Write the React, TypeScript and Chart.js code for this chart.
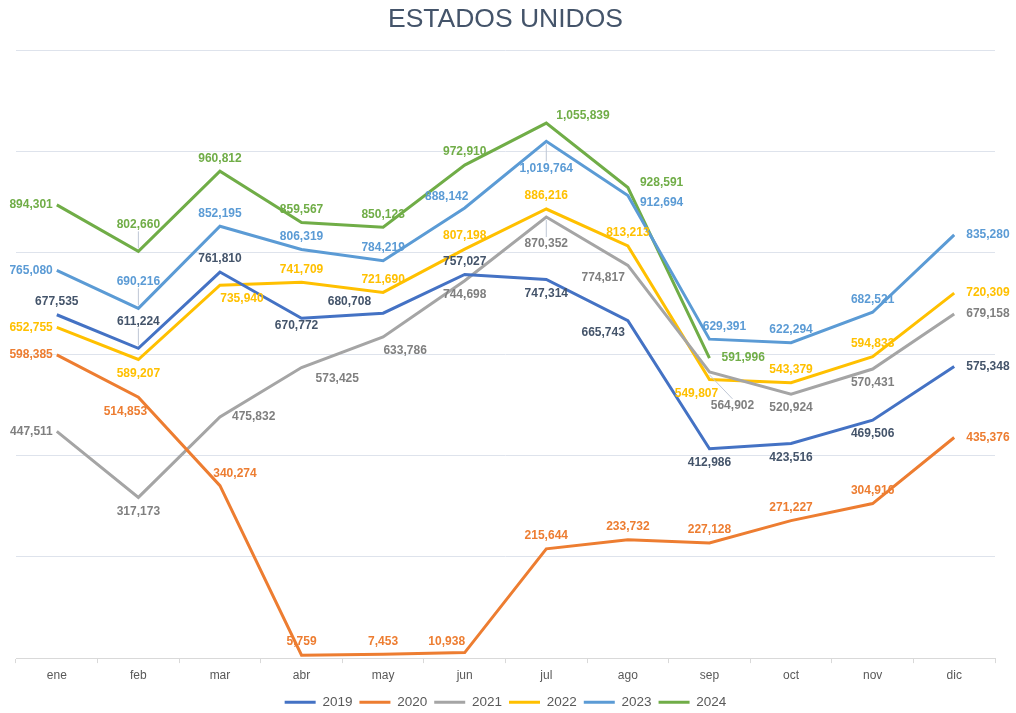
import React, { useEffect, useRef } from "react";
import { Chart, registerables } from "chart.js";

Chart.register(...registerables);

const months = ["ene", "feb", "mar", "abr", "may", "jun", "jul", "ago", "sep", "oct", "nov", "dic"];
const seriesNames = ["2019", "2020", "2021", "2022", "2023", "2024"];

const values2019 = [677535, 611224, 761810, 670772, 680708, 757027, 747314, 665743, 412986, 423516, 469506, 575348];
const values2020 = [598385, 514853, 340274, 5759, 7453, 10938, 215644, 233732, 227128, 271227, 304916, 435376];
const values2021 = [447511, 317173, 475832, 573425, 633786, 744698, 870352, 774817, 564902, 520924, 570431, 679158];
const values2022 = [652755, 589207, 735940, 741709, 721690, 807198, 886216, 813213, 549807, 543379, 594833, 720309];
const values2023 = [765080, 690216, 852195, 806319, 784219, 888142, 1019764, 912694, 629391, 622294, 682521, 835280];
const values2024 = [894301, 802660, 960812, 859567, 850123, 972910, 1055839, 928591, 591996, null, null, null];

const allValues = [values2019, values2020, values2021, values2022, values2023, values2024];

const lineColors = ["#4472C4", "#ED7D31", "#A5A5A5", "#FFC000", "#5B9BD5", "#70AD47"];
const labelColors = ["#44546A", "#ED7D31", "#7F7F7F", "#FFC000", "#5B9BD5", "#70AD47"];

// label placement codes per series / month
const placements = [
  ["T", "TT", "T", "BN", "LT", "T", "B", "BL", "B", "B", "B", "R"],
  ["L", "BW", "TR", "T", "T", "TL", "T", "T", "T", "T", "T", "R"],
  ["L", "B", "R", "RB", "BR", "B", "BB", "BL", "BBR", "B", "B", "R"],
  ["L", "B", "BR", "T", "T", "T", "T", "T", "BW", "T", "T", "R"],
  ["L", "TT", "T", "T", "T", "TL", "BB", "RS", "TR", "T", "T", "R"],
  ["L", "TT", "T", "T", "T", "T", "RT", "RN", "R", "T", "T", "R"],
];

const OFFSETS: Record<string, { dx: number; dy: number; align: CanvasTextAlign; leader?: boolean }> = {
  T: { dx: 0, dy: -13, align: "center" },
  B: { dx: 0, dy: 14, align: "center" },
  BN: { dx: -5, dy: 8, align: "center" },
  BW: { dx: -13, dy: 14, align: "center" },
  L: { dx: -4, dy: 0, align: "right" },
  LT: { dx: -12, dy: -11, align: "right" },
  R: { dx: 12, dy: 0, align: "left" },
  RN: { dx: 12, dy: -5, align: "left" },
  RS: { dx: 12, dy: 7, align: "left" },
  RT: { dx: 10, dy: -7, align: "left" },
  RB: { dx: 14, dy: 11, align: "left" },
  TL: { dx: -18, dy: -11, align: "center" },
  TR: { dx: 15, dy: -12, align: "center" },
  BL: { dx: -3, dy: 12, align: "right" },
  BR: { dx: 22, dy: 14, align: "center" },
  TT: { dx: 0, dy: -27, align: "center", leader: true },
  BB: { dx: 0, dy: 27, align: "center", leader: true },
  BBR: { dx: 23, dy: 34, align: "center", leader: true },
};

const fmt = (v: number) => String(Math.round(v)).replace(/\B(?=(\d{3})+(?!\d))/g, ",");

const labelPlugin = {
  id: "pointLabels",
  afterDatasetsDraw(chart: any) {
    const ctx = chart.ctx;
    ctx.save();
    ctx.font = "bold 12px 'Liberation Sans', Arial, sans-serif";
    ctx.textBaseline = "middle";
    chart.data.datasets.forEach((ds: any, di: number) => {
      const meta = chart.getDatasetMeta(di);
      meta.data.forEach((pt: any, i: number) => {
        const v = ds.data[i];
        if (v === null || v === undefined) return;
        const code = placements[di][i] || "T";
        const o = OFFSETS[code];
        const x = pt.x + o.dx;
        const y = pt.y + o.dy;
        if (o.leader) {
          ctx.strokeStyle = "#BFC7D5";
          ctx.lineWidth = 1;
          ctx.beginPath();
          const up = o.dy < 0;
          ctx.moveTo(pt.x, pt.y + (up ? -3 : 3));
          ctx.lineTo(x, y + (up ? 7 : -7));
          ctx.stroke();
        }
        ctx.fillStyle = labelColors[di];
        ctx.textAlign = o.align;
        ctx.fillText(fmt(v), x, y);
      });
    });
    ctx.restore();
  },
};

export default function App() {
  const ref = useRef<HTMLCanvasElement | null>(null);
  useEffect(() => {
    if (!ref.current) return;
    const chart = new Chart(ref.current, {
      type: "line",
      data: {
        labels: months,
        datasets: allValues.map((vals, i) => ({
          label: seriesNames[i],
          data: vals,
          borderColor: lineColors[i],
          backgroundColor: lineColors[i],
          borderWidth: 3,
          pointRadius: 0,
          pointHoverRadius: 0,
          tension: 0,
          spanGaps: false,
        })),
      },
      options: {
        animation: false,
        responsive: true,
        maintainAspectRatio: false,
        layout: { padding: { left: 16, right: 21, top: 0, bottom: -6 } },
        scales: {
          x: {
            offset: true,
            grid: {
              offset: true,
              drawOnChartArea: false,
              drawTicks: true,
              tickLength: 5,
              color: "#D9D9D9",
            },
            border: { display: true, color: "#D9D9D9" },
            ticks: {
              color: "#595959",
              padding: 5.5,
              font: { family: "'Liberation Sans', Arial, sans-serif", size: 12 },
            },
          },
          y: {
            min: 0,
            max: 1200000,
            ticks: { display: false, stepSize: 200000 },
            border: { display: false },
            grid: { color: "#DEE3EC", drawTicks: false },
          },
        },
        plugins: {
          title: {
            display: true,
            text: "ESTADOS UNIDOS",
            color: "#44546A",
            font: { family: "'Liberation Sans', Arial, sans-serif", size: 26.5, weight: "normal", lineHeight: 0.8 },
            padding: { top: 9.4, bottom: 19.4 },
          },
          legend: {
            display: true,
            position: "bottom",
            labels: {
              color: "#595959",
              boxWidth: 31,
              boxHeight: 3,
              padding: 7,
              font: { family: "'Liberation Sans', Arial, sans-serif", size: 13.5 },
              generateLabels: (chart: any) =>
                chart.data.datasets.map((ds: any, i: number) => ({
                  text: ds.label,
                  fillStyle: ds.borderColor,
                  strokeStyle: ds.borderColor,
                  lineWidth: 0,
                  hidden: false,
                  datasetIndex: i,
                  fontColor: "#595959",
                })),
            },
          },
          tooltip: { enabled: false },
        },
      },
      plugins: [labelPlugin],
    });
    return () => chart.destroy();
  }, []);
  return (
    <div style={{ position: "fixed", left: 0, top: 0, width: 1016, height: 713 }}>
      <canvas ref={ref} />
    </div>
  );
}
